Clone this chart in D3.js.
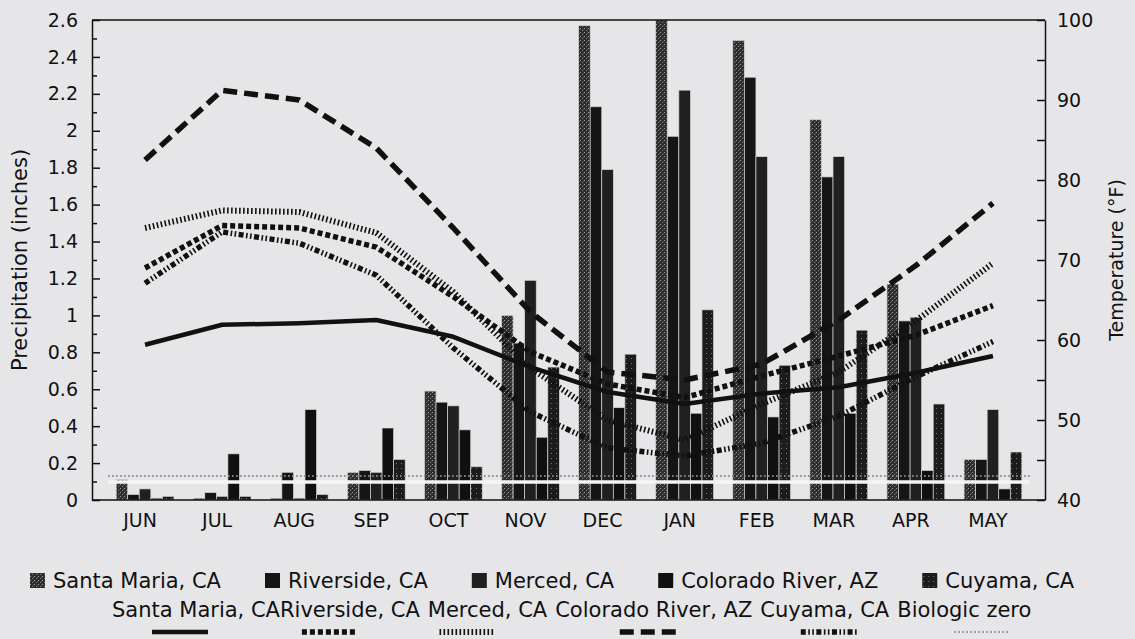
<!DOCTYPE html>
<html>
<head>
<meta charset="utf-8">
<script src="https://cdn.jsdelivr.net/npm/d3@7"></script>
<style>
  body { margin: 0; background: #e6e6e8; }
  svg { display: block; }
  text { font-family: "DejaVu Sans", "Liberation Sans", sans-serif; fill: #111; }
</style>
</head>
<body>
<div id="chart"></div>
<script>
// ---- data ----
const months = ["JUN", "JUL", "AUG", "SEP", "OCT", "NOV", "DEC", "JAN", "FEB", "MAR", "APR", "MAY"];
const stations = ["Santa Maria, CA", "Riverside, CA", "Merced, CA", "Colorado River, AZ", "Cuyama, CA"];

// precipitation (inches)
const precipSantaMaria = [0.11, 0.01, 0.01, 0.15, 0.59, 1.00, 2.57, 2.60, 2.49, 2.06, 1.17, 0.22];
const precipRiverside  = [0.03, 0.04, 0.15, 0.16, 0.53, 0.85, 2.13, 1.97, 2.29, 1.75, 0.97, 0.22];
const precipMerced     = [0.06, 0.02, 0.01, 0.15, 0.51, 1.19, 1.79, 2.22, 1.86, 1.86, 0.99, 0.49];
const precipColorado   = [0.01, 0.25, 0.49, 0.39, 0.38, 0.34, 0.50, 0.47, 0.45, 0.47, 0.16, 0.06];
const precipCuyama     = [0.02, 0.02, 0.03, 0.22, 0.18, 0.72, 0.79, 1.03, 0.73, 0.92, 0.52, 0.26];

// mean temperature (deg F)
const tempSantaMaria = [59.4, 61.9, 62.1, 62.5, 60.4, 56.6, 53.5, 52.0, 53.3, 54.1, 55.9, 58.0];
const tempRiverside  = [69.0, 74.3, 74.0, 71.6, 65.4, 58.5, 54.5, 52.8, 55.5, 58.0, 60.6, 64.3];
const tempMerced     = [74.0, 76.2, 76.0, 73.4, 66.0, 56.5, 50.0, 47.5, 52.0, 56.0, 62.4, 69.6];
const tempColorado   = [82.5, 91.2, 90.0, 84.0, 74.0, 63.5, 56.0, 55.0, 57.0, 62.5, 69.3, 77.1];
const tempCuyama     = [67.1, 73.5, 72.1, 68.1, 59.0, 51.0, 46.5, 45.5, 47.1, 50.5, 55.4, 59.8];
const biologicZero   = [43, 43, 43, 43, 43, 43, 43, 43, 43, 43, 43, 43];

const precipTicks = d3.range(0, 27, 2).map(d => d / 10);
const tempTicks = d3.range(40, 101, 10);

// ---- layout ----
const W = 1135, H = 639;
const plot = {left: 92, right: 1045, top: 20, bottom: 500};

const svg = d3.select("#chart").append("svg")
  .attr("width", W)
  .attr("height", H);

const defs = svg.append("defs");

// stippled fill for Santa Maria
let p1 = defs.append("pattern").attr("id", "stipA")
  .attr("width", 4).attr("height", 4).attr("patternUnits", "userSpaceOnUse");
p1.append("rect").attr("width", 4).attr("height", 4).attr("fill", "#2e2e2e");
p1.append("rect").attr("x", 0).attr("y", 0).attr("width", 1).attr("height", 1).attr("fill", "#9a9a9a");
p1.append("rect").attr("x", 2).attr("y", 2).attr("width", 1).attr("height", 1).attr("fill", "#7c7c7c");
p1.append("rect").attr("x", 3).attr("y", 1).attr("width", 1).attr("height", 1).attr("fill", "#555");

// darker speckle for Cuyama
let p2 = defs.append("pattern").attr("id", "stipB")
  .attr("width", 5).attr("height", 5).attr("patternUnits", "userSpaceOnUse");
p2.append("rect").attr("width", 5).attr("height", 5).attr("fill", "#1c1c1c");
p2.append("rect").attr("x", 1).attr("y", 3).attr("width", 1).attr("height", 1).attr("fill", "#777");

const barFills = ["url(#stipA)", "#151515", "#202020", "#101010", "url(#stipB)"];
const precipSeries = [precipSantaMaria, precipRiverside, precipMerced, precipColorado, precipCuyama];

const lineStyles = [
  {name: "Santa Maria, CA", values: tempSantaMaria, width: 4.5, dash: null},
  {name: "Riverside, CA", values: tempRiverside, width: 5.5, dash: "5,3"},
  {name: "Merced, CA", values: tempMerced, width: 6, dash: "1.6,2.4"},
  {name: "Colorado River, AZ", values: tempColorado, width: 5.5, dash: "14,7"},
  {name: "Cuyama, CA", values: tempCuyama, width: 5.5, dash: "5,2.5,1.6,2.4,1.6,2.5"},
];

// ---- scales ----
let x = d3.scaleBand()
  .domain(months)
  .range([106.5, 1031.5])
  .paddingInner(0.25)
  .paddingOuter(0.125);

let xs = d3.scaleBand()
  .domain(d3.range(stations.length))
  .range([0, x.bandwidth()]);

let yP = d3.scaleLinear().domain([0, 2.6]).range([plot.bottom, plot.top]);
let yT = d3.scaleLinear().domain([40, 100]).range([plot.bottom, plot.top]);

// ---- bars ----
let barRows = [];
months.forEach((m, i) => {
  precipSeries.forEach((s, j) => barRows.push({month: m, s: j, v: s[i]}));
});

svg.append("g").selectAll("rect")
  .data(barRows)
  .enter().append("rect")
  .attr("x", d => x(d.month) + xs(d.s))
  .attr("y", d => yP(d.v))
  .attr("width", xs.bandwidth())
  .attr("height", d => yP(0) - yP(d.v))
  .attr("fill", d => barFills[d.s])
  .attr("stroke", "#d4d4d6")
  .attr("stroke-width", 0.7);

// ---- biologic zero ----
let bioLine = d3.line()
  .x((d, i) => i === 0 ? x(months[0]) - 8 : (i === months.length - 1 ? x(months[i]) + x.bandwidth() + 8 : x(months[i]) + x.bandwidth() / 2))
  .y(d => yT(d));

svg.append("path")
  .attr("d", bioLine(biologicZero))
  .attr("fill", "none")
  .attr("stroke", "#f4f4f4")
  .attr("stroke-width", 3.5)
  .attr("transform", "translate(0,6)");

svg.append("path")
  .attr("d", bioLine(biologicZero))
  .attr("fill", "none")
  .attr("stroke", "#8a8a8a")
  .attr("stroke-width", 1.8)
  .attr("stroke-dasharray", "1.5,2.5");

// ---- temperature lines ----
let line = d3.line()
  .x((d, i) => x(months[i]) + x.bandwidth() / 2)
  .y(d => yT(d));

lineStyles.forEach(ls => {
  svg.append("path")
    .attr("d", line(ls.values))
    .attr("fill", "none")
    .attr("stroke", "#111")
    .attr("stroke-width", ls.width)
    .attr("stroke-linejoin", "round")
    .attr("stroke-dasharray", ls.dash);
});

// ---- axes ----
let leftAxis = d3.axisLeft(yP)
  .tickValues(precipTicks)
  .tickFormat(d3.format("~g"))
  .tickSizeInner(-8)
  .tickSizeOuter(0)
  .tickPadding(14);

svg.append("g")
  .attr("transform", "translate(" + plot.left + ",0)")
  .call(leftAxis);

svg.append("g")
  .attr("transform", "translate(" + plot.left + ",0)")
  .call(d3.axisLeft(yP).tickValues(d3.range(1, 26, 2).map(d => d / 10)).tickFormat("").tickSizeInner(-5).tickSizeOuter(0))
  .select(".domain").remove();

let rightAxis = d3.axisRight(yT)
  .tickValues(tempTicks)
  .tickSizeInner(-8)
  .tickSizeOuter(0)
  .tickPadding(12);

svg.append("g")
  .attr("transform", "translate(" + plot.right + ",0)")
  .call(rightAxis);

svg.append("g")
  .attr("transform", "translate(" + plot.right + ",0)")
  .call(d3.axisRight(yT).tickValues(d3.range(45, 100, 10)).tickFormat("").tickSizeInner(-8).tickSizeOuter(0))
  .select(".domain").remove();

let gb = svg.append("g")
  .attr("transform", "translate(0," + plot.bottom + ")")
  .call(d3.axisBottom(x).tickSize(0).tickPadding(14));
gb.select(".domain").attr("d", "M" + plot.left + ",0H" + plot.right);
gb.selectAll("text").attr("dx", -5);

// top frame
svg.append("line")
  .attr("x1", plot.left).attr("x2", plot.right)
  .attr("y1", plot.top).attr("y2", plot.top)
  .attr("stroke", "#111").attr("stroke-width", 1.5);

svg.selectAll(".domain").attr("stroke", "#111").attr("stroke-width", 1.5);
svg.selectAll(".tick line").attr("stroke", "#111").attr("stroke-width", 1.5);
svg.selectAll(".tick text")
  .style("font-family", "DejaVu Sans, sans-serif")
  .style("font-size", "19px")
  .attr("fill", "#111");

// axis titles
svg.append("text")
  .attr("transform", "translate(27," + (plot.top + plot.bottom) / 2 + ") rotate(-90)")
  .attr("text-anchor", "middle")
  .style("font-size", "21px")
  .text("Precipitation (inches)");

svg.append("text")
  .attr("transform", "translate(1123," + (plot.top + plot.bottom) / 2 + ") rotate(-90)")
  .attr("text-anchor", "middle")
  .style("font-size", "19px")
  .text("Temperature (\u00B0F)");

// ---- legend, row 1: bar series ----
let leg1 = svg.append("g").attr("transform", "translate(30,588)");
let cursor = 0;
let gap = 44;
stations.forEach((s, j) => {
  let g = leg1.append("g").attr("transform", "translate(" + cursor + ",0)");
  g.append("rect")
    .attr("x", 0).attr("y", -15)
    .attr("width", 15).attr("height", 15)
    .attr("fill", barFills[j]);
  let t = g.append("text")
    .attr("x", 23).attr("y", 0)
    .style("font-size", "21px")
    .text(s);
  cursor += 23 + t.node().getComputedTextLength() + gap;
});

// ---- legend, row 2: line series ----
let leg2 = svg.append("g").attr("transform", "translate(112,617)");
let labels2 = lineStyles.map(d => d.name).concat(["Biologic zero"]);
let styles2 = lineStyles.concat([{width: 1.8, dash: "1.5,2.5", color: "#8a8a8a"}]);
let sampleShift = [-16, -20, -20, -6, 4, 18];
let pos = 0;
labels2.forEach((s, j) => {
  let t = leg2.append("text")
    .attr("x", pos).attr("y", 0)
    .style("font-size", "21px")
    .text(s);
  let w = t.node().getComputedTextLength();
  let st = styles2[j];
  let cx = pos + w / 2 + sampleShift[j];
  leg2.append("line")
    .attr("x1", cx - 28).attr("x2", cx + 28)
    .attr("y1", 15).attr("y2", 15)
    .attr("stroke", st.color || "#111")
    .attr("stroke-width", st.width)
    .attr("stroke-dasharray", st.dash);
  pos += w + (j === 0 ? 0 : 8);
});
</script>
</body>
</html>
